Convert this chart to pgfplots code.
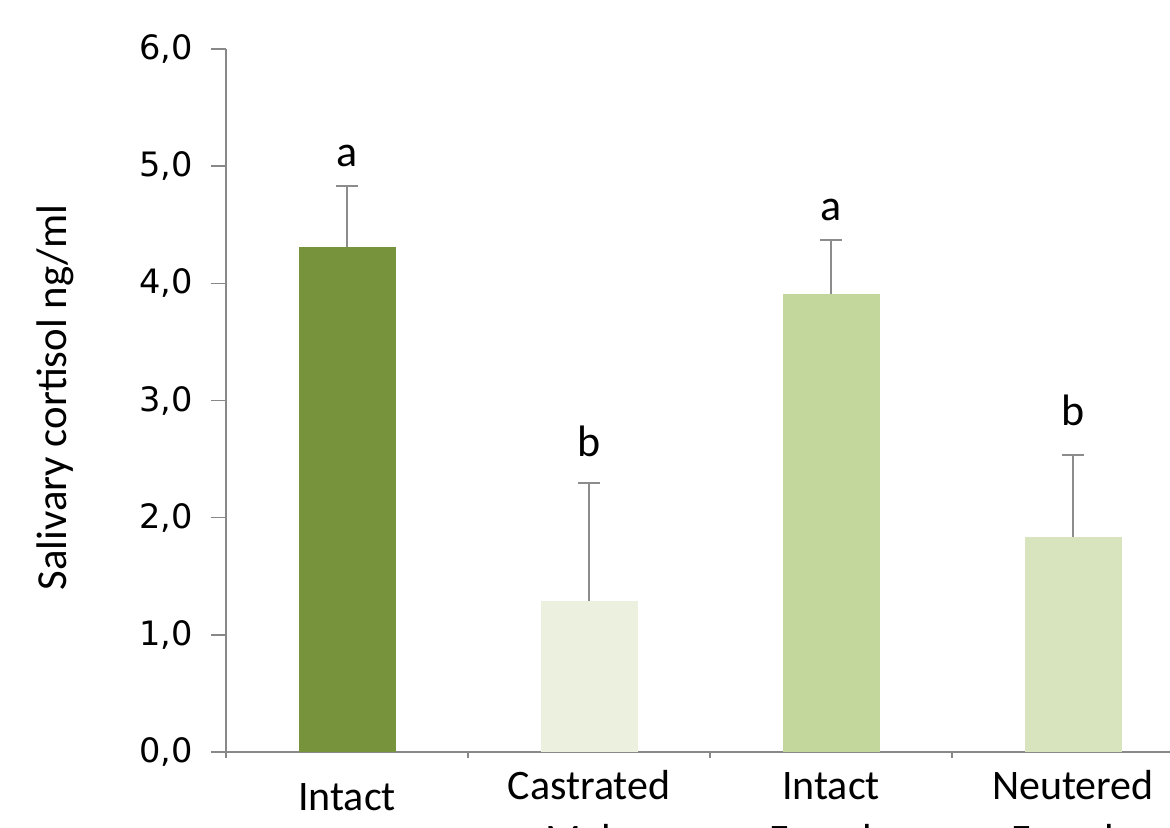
\documentclass[border=0pt]{standalone}
\usepackage{pgfplots}
\pgfplotsset{compat=1.18}
\usepackage{fontspec}
\setmainfont{Carlito}
\newfontfamily\dejavu{DejaVu Sans}
\definecolor{cIM}{HTML}{77933C}
\definecolor{cCM}{HTML}{EBF1DE}
\definecolor{cIF}{HTML}{C3D69B}
\definecolor{cNF}{HTML}{D7E4BD}
\definecolor{errgray}{HTML}{8C8C8C}
\definecolor{axgray}{HTML}{888888}
\begin{document}
\begin{tikzpicture}
\path[use as bounding box, clip] (0,0) rectangle (585pt,413.5pt);
\begin{axis}[
  at={(113pt,37.5pt)}, anchor=south west,
  scale only axis, width=484pt, height=351.5pt,
  xmin=-0.5, xmax=3.5, ymin=0, ymax=6,
  clip=false,
  axis x line*=bottom, axis y line*=left,
  axis line style={draw=axgray, line width=0.8pt, -},
  ybar, bar width=48.5pt, bar shift=0pt,
  ytick={0,1,2,3,4,5,6},
  xtick={-0.5,0.5,1.5,2.5,3.5}, xticklabels={},
  tick align=outside,
  major tick length=7.5pt,
  tick style={draw=axgray, line width=0.8pt},
  x tick style={/pgfplots/major tick length=3pt},
  yticklabel style={font=\dejavu\fontsize{16.8}{20}\selectfont, xshift=-5.5pt,
    /pgf/number format/.cd, fixed, fixed zerofill, precision=1, use comma, assume math mode=true},
  error bars/error bar style={draw=errgray, line width=1pt},
  error bars/error mark options={rotate=90, mark size=5.5pt, draw=errgray, line width=1pt},
]
\addplot[fill=cIM, draw=none, error bars/.cd, y dir=plus, y explicit]
  coordinates {(0,4.31) +- (0,0.52)};
\addplot[fill=cCM, draw=none, error bars/.cd, y dir=plus, y explicit]
  coordinates {(1,1.29) +- (0,1.01)};
\addplot[fill=cIF, draw=none, error bars/.cd, y dir=plus, y explicit]
  coordinates {(2,3.91) +- (0,0.46)};
\addplot[fill=cNF, draw=none, error bars/.cd, y dir=plus, y explicit]
  coordinates {(3,1.835) +- (0,0.70)};

\begin{scope}[every node/.style={font=\fontsize{22}{26}\selectfont, anchor=base, inner sep=0pt}]
\node at (axis cs:0,5.00) {a};
\node at (axis cs:1,2.52) {b};
\node at (axis cs:2,4.54) {a};
\node at (axis cs:3,2.79) {b};
\end{scope}

\begin{scope}[every node/.style={font=\fontsize{21}{25}\selectfont, anchor=base, inner sep=0pt}]
\node at ([yshift=-29pt]axis cs:0,0) {Intact};
\node at ([yshift=-23.5pt]axis cs:1,0) {Castrated};
\node at ([yshift=-50.5pt]axis cs:1,0) {Male};
\node at ([yshift=-23.5pt]axis cs:2,0) {Intact};
\node at ([yshift=-50.5pt]axis cs:2,0) {Female};
\node at ([yshift=-23.5pt]axis cs:3,0) {Neutered};
\node at ([yshift=-50.5pt]axis cs:3,0) {Female};
\end{scope}

\node[rotate=90, anchor=center, inner sep=0pt, font=\fontsize{21.4}{25}\selectfont]
  at ([xshift=-85.5pt, yshift=1.5pt]rel axis cs:0,0.5) {Salivary cortisol ng/ml};
\end{axis}
\end{tikzpicture}
\end{document}
